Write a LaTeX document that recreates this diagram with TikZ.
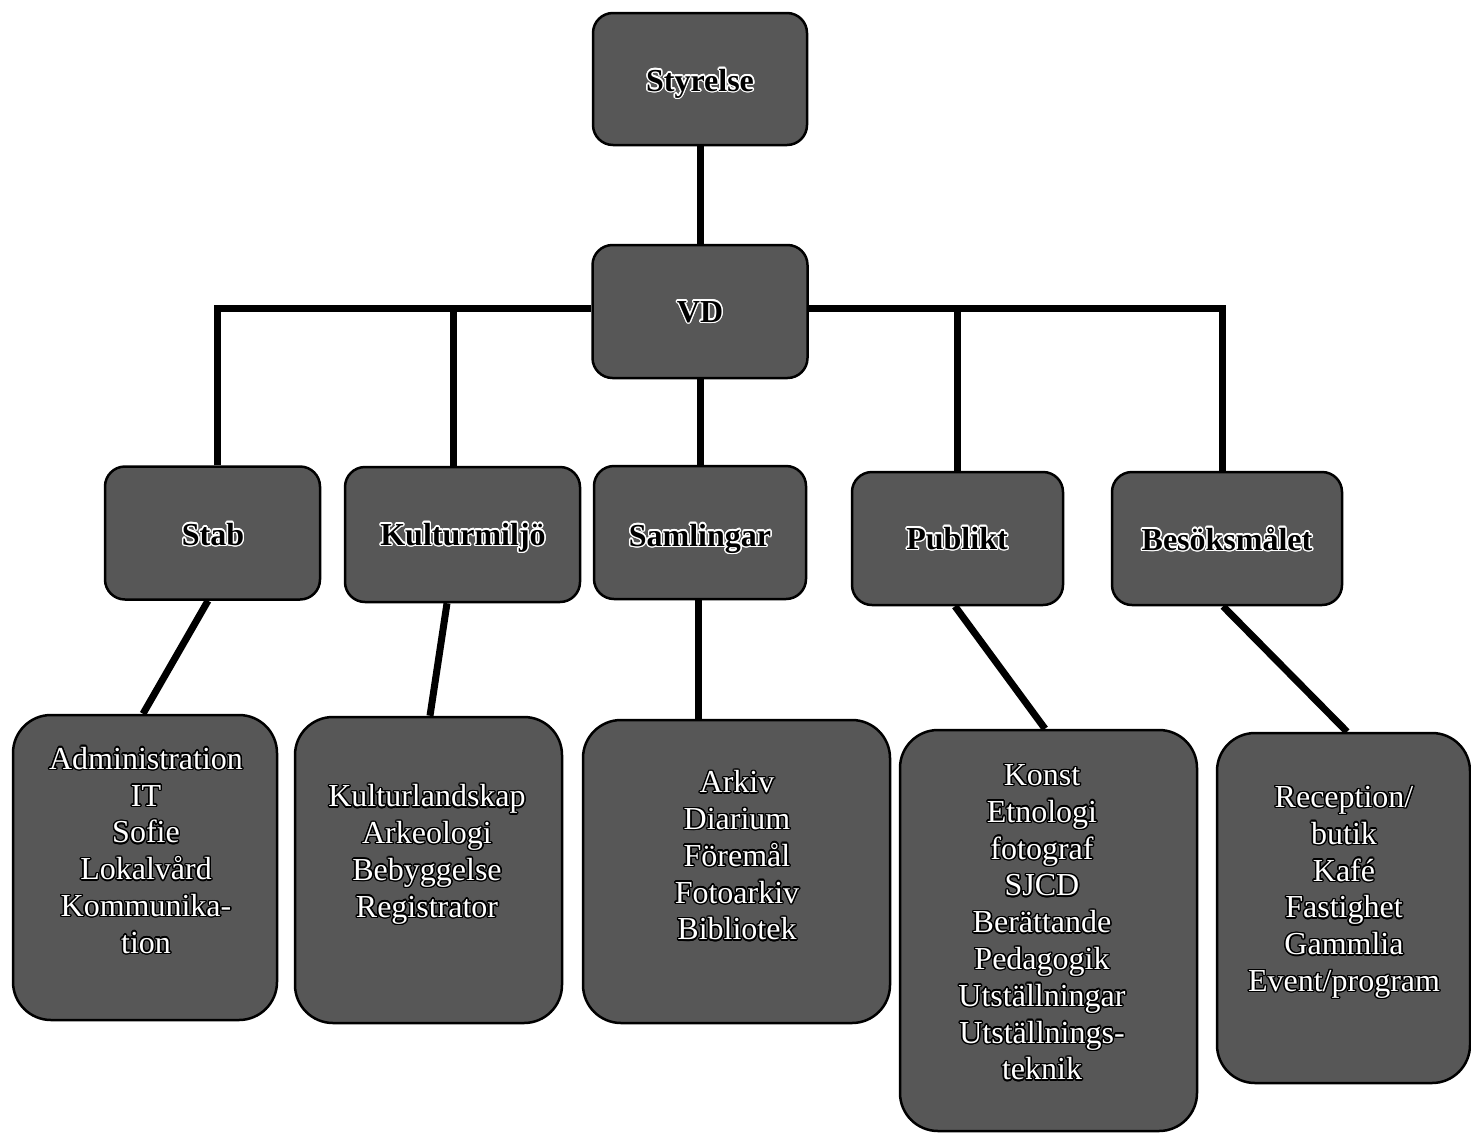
\documentclass[tikz,border=0pt]{standalone}
\usepackage{fontspec}
\setmainfont{Liberation Serif}
\usepackage{contour}
\contourlength{1.4pt}
\usetikzlibrary{backgrounds}
\definecolor{boxgray}{gray}{0.34}
\newcommand{\hdr}[1]{\contour{white}{#1}}
\newcommand{\lowl}[1]{\contour{black}{#1}}
\begin{document}
\begin{tikzpicture}[x=1pt,y=-1pt,
  orgbox/.style={draw=black, line width=2.5pt, fill=boxgray, rounded corners=20pt, inner sep=0pt},
  lowbox/.style={orgbox, rounded corners=38pt},
  hdtext/.style={font=\fontsize{32}{36}\selectfont\bfseries, text=black, inner sep=0pt, anchor=base},
  lotext/.style={font=\fontsize{32}{36.8}\selectfont, text=white, align=center, inner sep=0pt},
  conn/.style={line width=7pt, draw=black, line join=miter}]
\useasboundingbox (0,0) rectangle (1471,1133);
% top level boxes
\node[orgbox, minimum width=214pt, minimum height=132pt] (sty) at (700,79) {};
\node[orgbox, minimum width=215pt, minimum height=133pt] (vd) at (700,311.5) {};
\node[orgbox, minimum width=215pt, minimum height=133pt] (stab) at (212.5,533) {};
\node[orgbox, minimum width=235pt, minimum height=135pt] (kult) at (462.5,534.5) {};
\node[orgbox, minimum width=212pt, minimum height=133pt] (saml) at (700,532.5) {};
\node[orgbox, minimum width=211pt, minimum height=133pt] (publ) at (957.5,538.5) {};
\node[orgbox, minimum width=230pt, minimum height=133pt] (besok) at (1227,538.5) {};
% lower boxes
\node[lowbox, minimum width=264pt, minimum height=305pt] (adm) at (145,867.5) {};
\node[lowbox, minimum width=267pt, minimum height=306pt] (kulc) at (428.5,870) {};
\node[lowbox, minimum width=307pt, minimum height=303pt] (samc) at (736.5,871.5) {};
\node[lowbox, minimum width=297pt, minimum height=401pt] (pubc) at (1048.5,930.5) {};
\node[lowbox, minimum width=253pt, minimum height=350pt] (besc) at (1343.5,908) {};
% header texts
\node[hdtext] (stytx) at (700,91) {\hdr{Styrelse}};
\node[hdtext] (vdtx) at (700,322) {\hdr{VD}};
\node[hdtext] (stabtx) at (213,545) {\hdr{Stab}};
\node[hdtext] (kulttx) at (463,545) {\hdr{Kulturmiljö}};
\node[hdtext] (samltx) at (700,546) {\hdr{Samlingar}};
\node[hdtext] (publtx) at (957,549) {\hdr{Publikt}};
\node[hdtext] (besoktx) at (1227,550) {\hdr{Besöksmålet}};
% lower texts
\node[lotext] (admtx) at (146,851) {\lowl{Administration}\\\lowl{IT}\\\lowl{Sofie}\\\lowl{Lokalvård}\\\lowl{Kommunika-}\\\lowl{tion}};
\node[lotext] (kulctx) at (427,855) {\lowl{Kulturlandskap}\\\lowl{Arkeologi}\\\lowl{Bebyggelse}\\\lowl{Registrator}};
\node[lotext] (samctx) at (737,856) {\lowl{Arkiv}\\\lowl{Diarium}\\\lowl{Föremål}\\\lowl{Fotoarkiv}\\\lowl{Bibliotek}};
\node[lotext] (pubctx) at (1042,923) {\lowl{Konst}\\\lowl{Etnologi}\\\lowl{fotograf}\\\lowl{SJCD}\\\lowl{Berättande}\\\lowl{Pedagogik}\\\lowl{Utställningar}\\\lowl{Utställnings-}\\\lowl{teknik}};
\node[lotext] (besctx) at (1344,893) {\lowl{Reception/}\\\lowl{butik}\\\lowl{Kafé}\\\lowl{Fastighet}\\\lowl{Gammlia}\\\lowl{Event/program}};
% connectors
\begin{scope}[on background layer]
\draw[conn] (sty.south) -- (vd.north);
\draw[conn] (vd.south) -- (saml.north);
\draw[conn] ([xshift=4.5pt]stab.north) |- ([yshift=3.5pt]vd.west);
\draw[conn] ([xshift=-9.5pt]kult.north) |- ([yshift=3.5pt]vd.west);
\draw[conn] (publ.north) |- ([yshift=3.5pt]vd.east);
\draw[conn] ([xshift=-5pt]besok.north) |- ([yshift=3.5pt]vd.east);
\draw[conn] ([xshift=-4.5pt]stab.south) -- ([xshift=-2pt]adm.north);
\draw[conn] ([xshift=-15.5pt]kult.south) -- ([xshift=1.5pt]kulc.north);
\draw[conn] ([xshift=-2pt]saml.south) -- ([xshift=-38.5pt]samc.north);
\draw[conn] ([xshift=-2.5pt]publ.south) -- ([xshift=-3.5pt]pubc.north);
\draw[conn] ([xshift=-4pt]besok.south) -- ([xshift=3.5pt]besc.north);
\end{scope}
\end{tikzpicture}
\end{document}
